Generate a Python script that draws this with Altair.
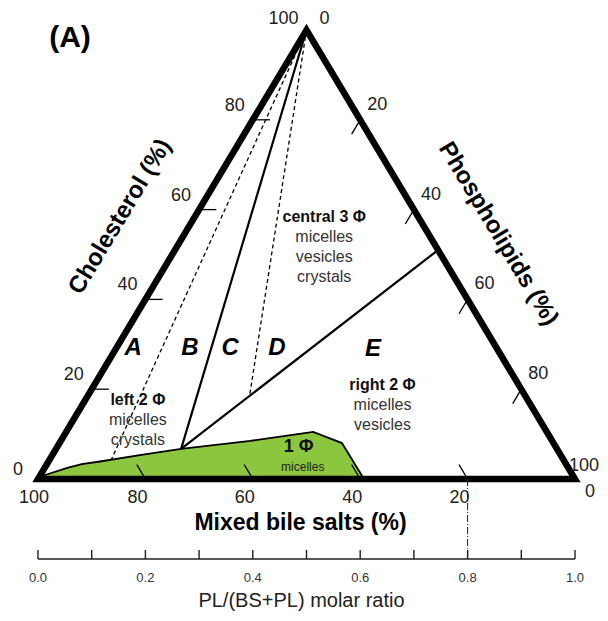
import altair as alt
import pandas as pd

# ---------------- data (ternary compositions in %, CH = cholesterol, PL = phospholipids, BS = 100 - CH - PL)
axis_ticks = [20, 40, 60, 80]

# upper boundary of the one-phase micellar zone (from BS vertex to the BS axis)
micelle_ch = [0, 0.9, 2.5, 3.3, 3.9, 5.3, 6.7, 8.5, 10.5, 8.0, 0]
micelle_pl = [0, 0.9, 4.2, 6.5, 9.6, 16.3, 23.3, 35.3, 46.0, 52.6, 60.7]

# phase-boundary lines: name -> [(CH, PL) start, (CH, PL) end]
solid_lines = {
    "B|C": [(100, 0), (6.7, 23.3)],
    "E": [(6.7, 23.3), (51.0, 49.0)],
}
dashed_lines = {
    "A|B": [(100, 0), (4.3, 11.5)],
    "C|D": [(100, 0), (18.5, 30.15)],
}

# region letters (CH, PL)
region_names = ["A", "B", "C", "D", "E"]
region_ch = [29.2, 29.2, 29.2, 29.2, 29.0]
region_pl = [3.1, 13.7, 21.2, 29.9, 47.9]

# phase annotations: header, sub lines, anchor (CH, PL)
phase_headers = ["central 3 Φ", "left 2 Φ", "right 2 Φ"]
phase_lines = [["micelles", "vesicles", "crystals"], ["micelles", "crystals"], ["micelles", "vesicles"]]
phase_ch = [58.4, 17.6, 20.9]
phase_pl = [24.1, 9.8, 53.7]
one_phase = ("1 Φ", "micelles", 7.1, 45.0)

# PL/(BS+PL) molar-ratio ruler
ratio_ticks = [0.0, 0.1, 0.2, 0.3, 0.4, 0.5, 0.6, 0.7, 0.8, 0.9, 1.0]
ratio_labels = [0.0, 0.2, 0.4, 0.6, 0.8, 1.0]
marked_ratio = 0.8

# ---------------- layout helpers
UX, UY = 5.37, 4.49            # pixels per chart unit
W, H = 592, 605
X0 = -30 / UX
Y1 = 471 / UY
XD = [X0, X0 + W / UX]
YD = [Y1 - H / UY, Y1]
FONT = "Liberation Sans"
GREEN = "#8CC63F"


def tern(ch, pl):
    return pl + ch / 2.0, ch


def shift(x, y, dx, dy):
    return x + dx / UX, y - dy / UY


xs = alt.Scale(domain=XD, nice=False, zero=False)
ys = alt.Scale(domain=YD, nice=False, zero=False)


def enc_xy(ch):
    return ch.encode(x=alt.X("X:Q", scale=xs, axis=None), y=alt.Y("Y:Q", scale=ys, axis=None))


def rules(rows, **mk):
    df = pd.DataFrame(rows, columns=["X", "Y", "X2", "Y2"])
    return alt.Chart(df).mark_rule(**mk).encode(
        x=alt.X("X:Q", scale=xs, axis=None), y=alt.Y("Y:Q", scale=ys, axis=None),
        x2="X2:Q", y2="Y2:Q")


def texts(rows, **mk):
    df = pd.DataFrame(rows, columns=["X", "Y", "T"])
    base = dict(font=FONT, baseline="middle", align="center")
    base.update(mk)
    return enc_xy(alt.Chart(df).mark_text(**base)).encode(text="T:N")


layers = []

# green micellar zone
mic = pd.DataFrame([dict(zip(["X", "Y"], tern(c, p)), k=i) for i, (c, p) in enumerate(zip(micelle_ch, micelle_pl))])
mic["Y0"] = 0.0
layers.append(alt.Chart(mic).mark_area(color=GREEN, opacity=1).encode(
    x=alt.X("X:Q", scale=xs, axis=None), y=alt.Y("Y:Q", scale=ys, axis=None), y2="Y0:Q"))
layers.append(enc_xy(alt.Chart(mic).mark_line(color="black", strokeWidth=1.8)).encode(order="k:Q"))

# axis ticks (inside the triangle)
TL = 3.2
tick_rows = []
for v in axis_ticks:
    # cholesterol (left edge): constant CH
    x1, y1 = tern(v, 0); x2, y2 = tern(v, TL)
    tick_rows.append((x1, y1, x2, y2))
    # phospholipids (right edge): constant PL
    x1, y1 = tern(100 - v, v); x2, y2 = tern(100 - v - TL, v)
    tick_rows.append((x1, y1, x2, y2))
    # bile salts (bottom edge): constant BS = v
    x1, y1 = tern(0, 100 - v); x2, y2 = tern(TL, 100 - v - TL)
    tick_rows.append((x1, y1, x2, y2))
layers.append(rules(tick_rows, color="black", strokeWidth=1.3))

# phase boundary lines
def seg_df(d):
    rows = []
    for name, pts in d.items():
        for k, (c, p) in enumerate(pts):
            x, y = tern(c, p)
            rows.append(dict(id=name, k=k, X=x, Y=y))
    return pd.DataFrame(rows)

layers.append(enc_xy(alt.Chart(seg_df(dashed_lines)).mark_line(
    color="black", strokeWidth=1.3, strokeDash=[4, 3])).encode(detail="id:N", order="k:Q"))
layers.append(enc_xy(alt.Chart(seg_df(solid_lines)).mark_line(
    color="black", strokeWidth=2.2)).encode(detail="id:N", order="k:Q"))

# triangle frame
tri = [(0, 50), (0, 100), (100, 0), (0, 0), (0, 50)]
tri_df = pd.DataFrame([dict(zip(["X", "Y"], tern(c, p)), k=i) for i, (c, p) in enumerate(tri)])
layers.append(enc_xy(alt.Chart(tri_df).mark_line(
    color="black", strokeWidth=6.5, strokeJoin="miter", strokeMiterLimit=10)).encode(order="k:Q"))

# ratio ruler
RY = -80 / UY           # ruler baseline
RT = 9 / UY             # tick height
ruler = [(0, RY, 100, RY)] + [(100 * r, RY, 100 * r, RY + RT) for r in ratio_ticks]
layers.append(rules(ruler, color="#222222", strokeWidth=1.4))
layers.append(rules([(100 * marked_ratio, 0, 100 * marked_ratio, RY)],
                    color="#222222", strokeWidth=1, strokeDash=[7, 2, 1, 2]))

# tick labels
lab = []
for v in axis_ticks:
    x, y = tern(v, 0); lab.append((*shift(x, y, -18, -14), str(v)))
    x, y = tern(100 - v, v); lab.append((*shift(x, y, 17, -15), str(v)))
    x, y = tern(0, 100 - v); lab.append((*shift(x, y, -8, 19), str(v)))
tx, ty = tern(100, 0)
lx, ly = tern(0, 0)
rx, ry = tern(0, 100)
lab += [(*shift(tx, ty, -23, -11), "100"), (*shift(tx, ty, 18, -11), "0"),
        (*shift(lx, ly, -20, -9), "0"), (*shift(lx, ly, -4, 19), "100"),
        (*shift(rx, ry, 9, -13), "100"), (*shift(rx, ry, 15, 13), "0")]
layers.append(texts(lab, fontSize=18, color="#222222"))

# ratio labels and titles
layers.append(texts([(100 * r, RY - 19 / UY, f"{r:.1f}") for r in ratio_labels], fontSize=13, color="#333333"))
layers.append(texts([(*shift(50, RY, -5, 42), "PL/(BS+PL) molar ratio")], fontSize=20, color="#222222"))
layers.append(texts([(*shift(50, 0, -6, 44), "Mixed bile salts (%)")], fontSize=23, fontWeight="bold", color="black"))
layers.append(texts([(*tern(58.4, -13.9), "Cholesterol (%)")], fontSize=24, fontWeight="bold", angle=301))
layers.append(texts([(*tern(54.6, 58.4), "Phospholipids (%)")], fontSize=24, fontWeight="bold", angle=59))
layers.append(texts([(*shift(0, 100, 32, 8), "(A)")], fontSize=30, fontWeight="bold"))

# region letters
layers.append(texts([(*tern(c, p), n) for n, c, p in zip(region_names, region_ch, region_pl)],
                    fontSize=24, fontWeight="bold", fontStyle="italic"))

# phase annotations
hdr, sub = [], []
for h, subs, c, p in zip(phase_headers, phase_lines, phase_ch, phase_pl):
    x, y = tern(c, p)
    hdr.append((x, y, h))
    for i, s in enumerate(subs):
        sub.append((*shift(x, y, 0, 20 * (i + 1)), s))
layers.append(texts(hdr, fontSize=16, fontWeight="bold", color="#111111"))
layers.append(texts(sub, fontSize=16, color="#333333"))
ox, oy = tern(one_phase[2], one_phase[3])
layers.append(texts([(ox, oy, one_phase[0])], fontSize=18, fontWeight="bold", color="#111111"))
layers.append(texts([(*shift(ox, oy, 4, 20), one_phase[1])], fontSize=12, color="#222222"))

chart = alt.layer(*layers).properties(
    width=W, height=H, padding=0, autosize=alt.AutoSizeParams(type="none")
).configure_view(strokeWidth=0)

chart.save("out.html", embed_options={"renderer": "svg", "actions": False})
